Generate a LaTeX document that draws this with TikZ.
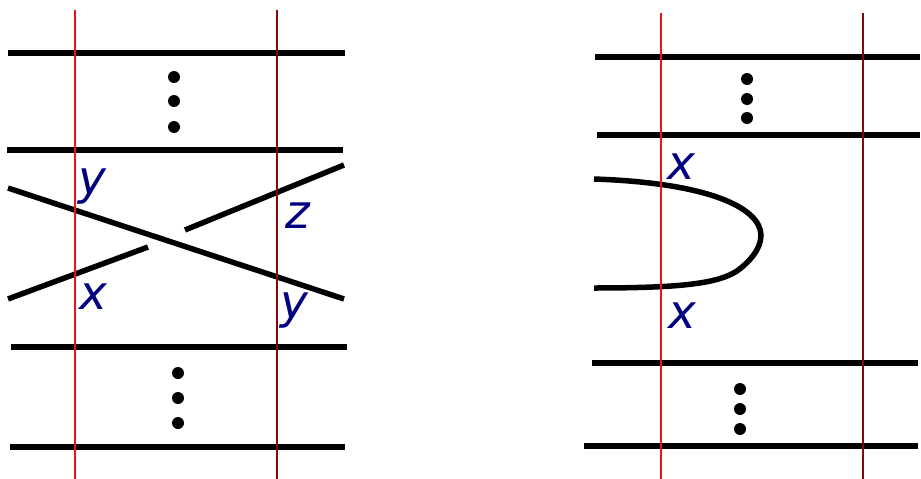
\documentclass[tikz,border=0pt]{standalone}
\usepackage{fontspec}
\setmainfont{DejaVu Sans}
\definecolor{lbl}{RGB}{0,0,128}
\definecolor{redA}{RGB}{235,20,20}
\definecolor{redB}{RGB}{128,10,10}
\begin{document}
\begin{tikzpicture}[x=1pt,y=-1pt,
  strand/.style={line width=5.5pt,black},
  rl/.style={line width=1.5pt,redA},
  dl/.style={line width=1.5pt,redB},
  lab/.style={text=lbl,font=\fontsize{47}{47}\selectfont\itshape,anchor=base west,inner sep=0pt},
  dot/.style={circle,fill=black,inner sep=0pt,minimum size=12pt}]
\useasboundingbox (0,0) rectangle (921,479);
% left panel
\draw[strand] (8,53) -- (345,53);
\draw[strand] (7,150) -- (343,150);
\draw[strand] (11,347) -- (347,347);
\draw[strand] (10,447) -- (345,447);
\node[dot] (d1) at (174,77) {};
\node[dot] (d2) at (174,101) {};
\node[dot] (d3) at (174,127) {};
\node[dot] (d4) at (178,373) {};
\node[dot] (d5) at (178,398) {};
\node[dot] (d6) at (178,423) {};
\draw[strand] (8,188) -- (344,299);
\draw[strand] (8,299) -- (148,247);
\draw[strand] (185,230) -- (344,165);
\draw[rl] (75,10) -- (75,479);
\draw[dl] (277,10) -- (277,479);
\node[lab] (ly1) at (78,194) {y};
\node[lab] (lz) at (285,228) {z};
\node[lab] (lx) at (79,309) {x};
\node[lab] (ly2) at (280,318) {y};
% right panel
\draw[strand] (595,57) -- (920,57);
\draw[strand] (597,135) -- (920,135);
\draw[strand] (592,363) -- (918,363);
\draw[strand] (584,446) -- (918,446);
\node[dot] (e1) at (747,79) {};
\node[dot] (e2) at (747,99) {};
\node[dot] (e3) at (747,118) {};
\node[dot] (e4) at (740,389) {};
\node[dot] (e5) at (740,409) {};
\node[dot] (e6) at (740,429) {};
\draw[strand] (594,179) .. controls (710,183) and (760,208) .. (761,235)
  .. controls (761,250) and (748,263) .. (737,271)
  .. controls (718,283) and (685,288) .. (594,288);
\draw[rl] (661,13) -- (661,479);
\draw[dl] (863,13) -- (863,479);
\node[lab] (rx1) at (667,179) {x};
\node[lab] (rx2) at (668,328) {x};
\end{tikzpicture}
\end{document}
